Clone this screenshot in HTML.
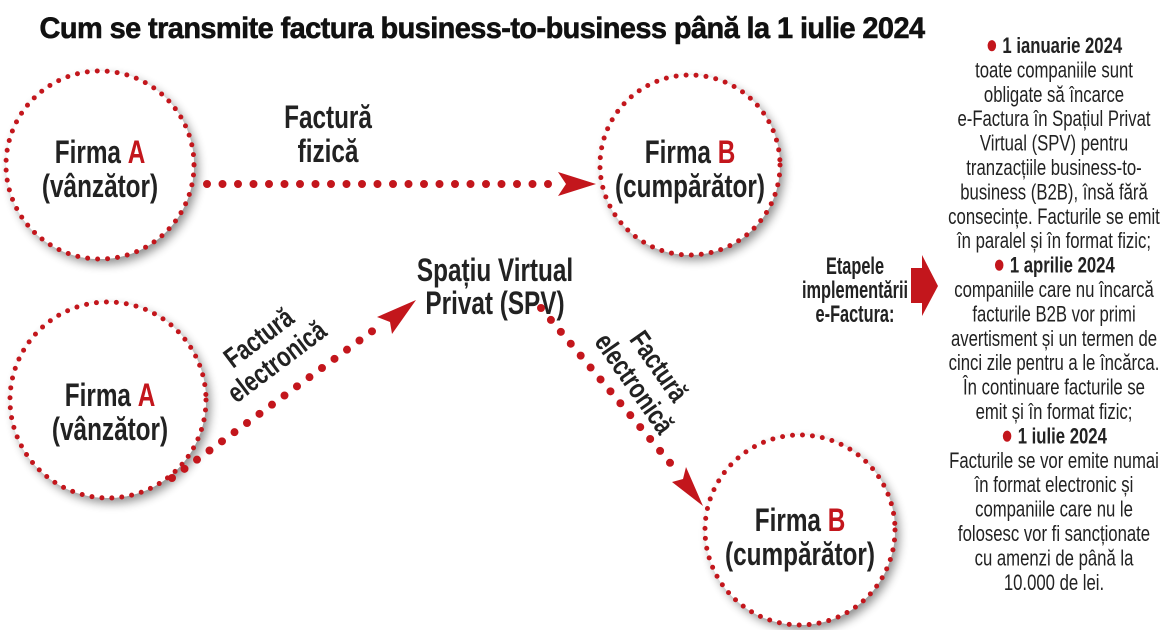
<!DOCTYPE html>
<html><head><meta charset="utf-8">
<style>
html,body{margin:0;padding:0;background:#fff;}
svg{display:block;}
text{font-family:"Liberation Sans",sans-serif;}
.b{font-weight:bold;}
</style></head>
<body>
<svg width="1170" height="630" viewBox="0 0 1170 630" xmlns="http://www.w3.org/2000/svg">
<defs>
<filter id="sh" x="-30%" y="-30%" width="160%" height="160%">
<feGaussianBlur in="SourceAlpha" stdDeviation="5"/>
<feOffset dx="4" dy="5" result="o"/>
<feComponentTransfer><feFuncA type="linear" slope="0.45"/></feComponentTransfer>
<feMerge><feMergeNode/><feMergeNode in="SourceGraphic"/></feMerge>
</filter>
</defs>
<rect width="1170" height="630" fill="#fff"/>

<!-- title -->
<text x="0" y="38" text-anchor="middle" class="b" font-size="30" fill="#111" stroke="#111" stroke-width="0.6" transform="translate(482,0) scale(0.965,1)" letter-spacing="-0.6">Cum se transmite factura business-to-business până la 1 iulie 2024</text>

<!-- circles -->
<g filter="url(#sh)">
<circle cx="100" cy="165" r="94" fill="#fff"/>
<circle cx="690" cy="165" r="90" fill="#fff"/>
<circle cx="108" cy="400" r="98" fill="#fff"/>
<circle cx="800" cy="530" r="95" fill="#fff"/>
</g>
<g fill="none" stroke="#c3161c" stroke-width="5" stroke-linecap="round" stroke-dasharray="0 10">
<circle cx="100" cy="165" r="94"/>
<circle cx="690" cy="165" r="90"/>
<circle cx="108" cy="400" r="98"/>
<circle cx="800" cy="530" r="95"/>
</g>

<!-- connectors -->
<g fill="none" stroke="#c3161c" stroke-width="8" stroke-linecap="round" stroke-dasharray="0 15.5">
<line x1="207" y1="184" x2="562" y2="184"/>
<line x1="172" y1="478" x2="382" y2="324"/>
<line x1="541" y1="308" x2="676" y2="470"/>
</g>
<g fill="#c3161c">
<polygon points="558,172 596,184 558,196 566,184"/>
<polygon points="377,317 416,300 392,334 390,322"/>
<polygon points="672,482 703,506 686,467 683,479"/>
</g>

<!-- node labels -->
<g class="b" font-size="32" fill="#222" text-anchor="middle">
<g transform="translate(100,0) scale(0.76,1)">
<text x="0" y="163">Firma <tspan fill="#c3161c">A</tspan></text>
<text x="0" y="197">(vânzător)</text>
</g>
<g transform="translate(690,0) scale(0.76,1)">
<text x="0" y="163">Firma <tspan fill="#c3161c">B</tspan></text>
<text x="0" y="197">(cumpărător)</text>
</g>
<g transform="translate(110,0) scale(0.76,1)">
<text x="0" y="406">Firma <tspan fill="#c3161c">A</tspan></text>
<text x="0" y="440">(vânzător)</text>
</g>
<g transform="translate(800,0) scale(0.76,1)">
<text x="0" y="531">Firma <tspan fill="#c3161c">B</tspan></text>
<text x="0" y="565">(cumpărător)</text>
</g>
<g transform="translate(495,0) scale(0.76,1)">
<text x="0" y="281">Spațiu Virtual</text>
<text x="0" y="314">Privat (SPV)</text>
</g>
<g transform="translate(328,0) scale(0.76,1)">
<text x="0" y="128">Factură</text>
<text x="0" y="162">fizică</text>
</g>
</g>

<!-- rotated labels -->
<g class="b" font-size="28" fill="#222" text-anchor="middle">
<g transform="translate(268,350) rotate(-37) scale(0.78,1)">
<text x="0" y="-6">Factură</text>
<text x="0" y="24">electronică</text>
</g>
<g transform="translate(648,374) rotate(55) scale(0.78,1)">
<text x="0" y="-4">Factură</text>
<text x="0" y="26">electronică</text>
</g>
</g>

<!-- Etapele -->
<g class="b" font-size="24" fill="#222" text-anchor="middle" transform="translate(855,0) scale(0.68,1)">
<text x="0" y="274">Etapele</text>
<text x="0" y="298">implementării</text>
<text x="0" y="322">e-Factura:</text>
</g>
<polygon points="911,268 922,268 922,255 938,286 922,316 922,303 911,303" fill="#c3161c"/>

<!-- right column -->
<g fill="#222" font-size="22" text-anchor="middle" transform="translate(1054,0) scale(0.76,1)">
<text x="0" y="53" class="b"><tspan fill="#c3161c" font-size="26">●</tspan> 1 ianuarie 2024</text>
<text x="0" y="77.4">toate companiile sunt</text>
<text x="0" y="101.8">obligate să încarce</text>
<text x="0" y="126.2">e-Factura în Spațiul Privat</text>
<text x="0" y="150.6">Virtual (SPV) pentru</text>
<text x="0" y="175">tranzacțiile business-to-</text>
<text x="0" y="199.4">business (B2B), însă fără</text>
<text x="0" y="223.8">consecințe. Facturile se emit</text>
<text x="0" y="248.2">în paralel și în format fizic;</text>
<text x="0" y="272.6" class="b"><tspan fill="#c3161c" font-size="26">●</tspan> 1 aprilie 2024</text>
<text x="0" y="297">companiile care nu încarcă</text>
<text x="0" y="321.4">facturile B2B vor primi</text>
<text x="0" y="345.8">avertisment și un termen de</text>
<text x="0" y="370.2">cinci zile pentru a le încărca.</text>
<text x="0" y="394.6">În continuare facturile se</text>
<text x="0" y="419">emit și în format fizic;</text>
<text x="0" y="443.4" class="b"><tspan fill="#c3161c" font-size="26">●</tspan> 1 iulie 2024</text>
<text x="0" y="467.8">Facturile se vor emite numai</text>
<text x="0" y="492.2">în format electronic și</text>
<text x="0" y="516.6">companiile care nu le</text>
<text x="0" y="541">folosesc vor fi sancționate</text>
<text x="0" y="565.4">cu amenzi de până la</text>
<text x="0" y="589.8">10.000 de lei.</text>
</g>
</svg>
</body></html>
